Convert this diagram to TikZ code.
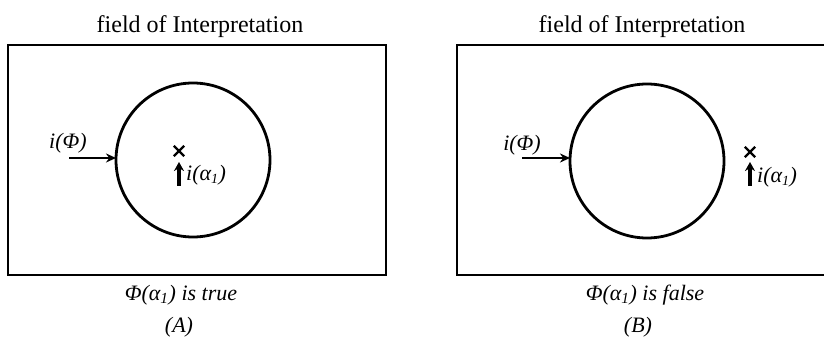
\documentclass[tikz,border=0pt]{standalone}
\usepackage{fontspec}
\setmainfont{Liberation Serif}
\usetikzlibrary{arrows.meta}
\begin{document}
\begin{tikzpicture}[x=1pt,y=-1pt,
  field/.style={draw,line width=2.6pt,minimum width=378pt,minimum height=230pt,inner sep=0pt},
  ring/.style={draw,circle,line width=2.8pt,minimum size=154pt,inner sep=0pt},
  lab/.style={font=\fontsize{22}{26}\selectfont\itshape,inner sep=0pt},
  ttl/.style={font=\fontsize{24}{28}\selectfont,inner sep=0pt},
  inarrow/.style={line width=2.6pt,-{Stealth[length=10pt,width=9pt]}},
  uparrow/.style={line width=3.2pt,-{Stealth[length=9pt,width=10pt]}},
  cross/.style={line width=2.4pt}]
\useasboundingbox (0,0) rectangle (824,344);
\clip (0,0) rectangle (824,344);
% left panel
\node[field] (boxA) at (197,160) {};
\node[ring] (circA) at (193,160) {};
\node[ttl] (titleA) at (200,27) {field of Interpretation};
\node[lab] (phiA) at (68,143) {i(Φ)};
\coordinate (inA) at (69,158);
\draw[inarrow] (inA) -- (116,158);
\node[inner sep=0pt,minimum size=10pt] (xA) at (179,151) {};
\draw[cross] (xA.north west) -- (xA.south east) (xA.north east) -- (xA.south west);
\coordinate (upA) at (179,186);
\draw[uparrow] (upA) -- (179,162);
\node[lab,anchor=west] (alA) at (186,175) {i(α\textsubscript{\fontsize{14}{16}\selectfont 1})};
\node[lab] (capA) at (181,295) {Φ(α\textsubscript{1}) is true};
\node[lab] (tagA) at (179,327) {(A)};
% right panel
\node[field] (boxB) at (646,160) {};
\node[ring] (circB) at (647,161) {};
\node[ttl] (titleB) at (642,27) {field of Interpretation};
\node[lab] (phiB) at (522,145) {i(Φ)};
\coordinate (inB) at (522,158);
\draw[inarrow] (inB) -- (570,158);
\node[inner sep=0pt,minimum size=10pt] (xB) at (750,152) {};
\draw[cross] (xB.north west) -- (xB.south east) (xB.north east) -- (xB.south west);
\coordinate (upB) at (750,186);
\draw[uparrow] (upB) -- (750,162);
\node[lab,anchor=west] (alB) at (757,177) {i(α\textsubscript{\fontsize{14}{16}\selectfont 1})};
\node[lab] (capB) at (645,295) {Φ(α\textsubscript{1}) is false};
\node[lab] (tagB) at (638,327) {(B)};
\end{tikzpicture}
\end{document}
